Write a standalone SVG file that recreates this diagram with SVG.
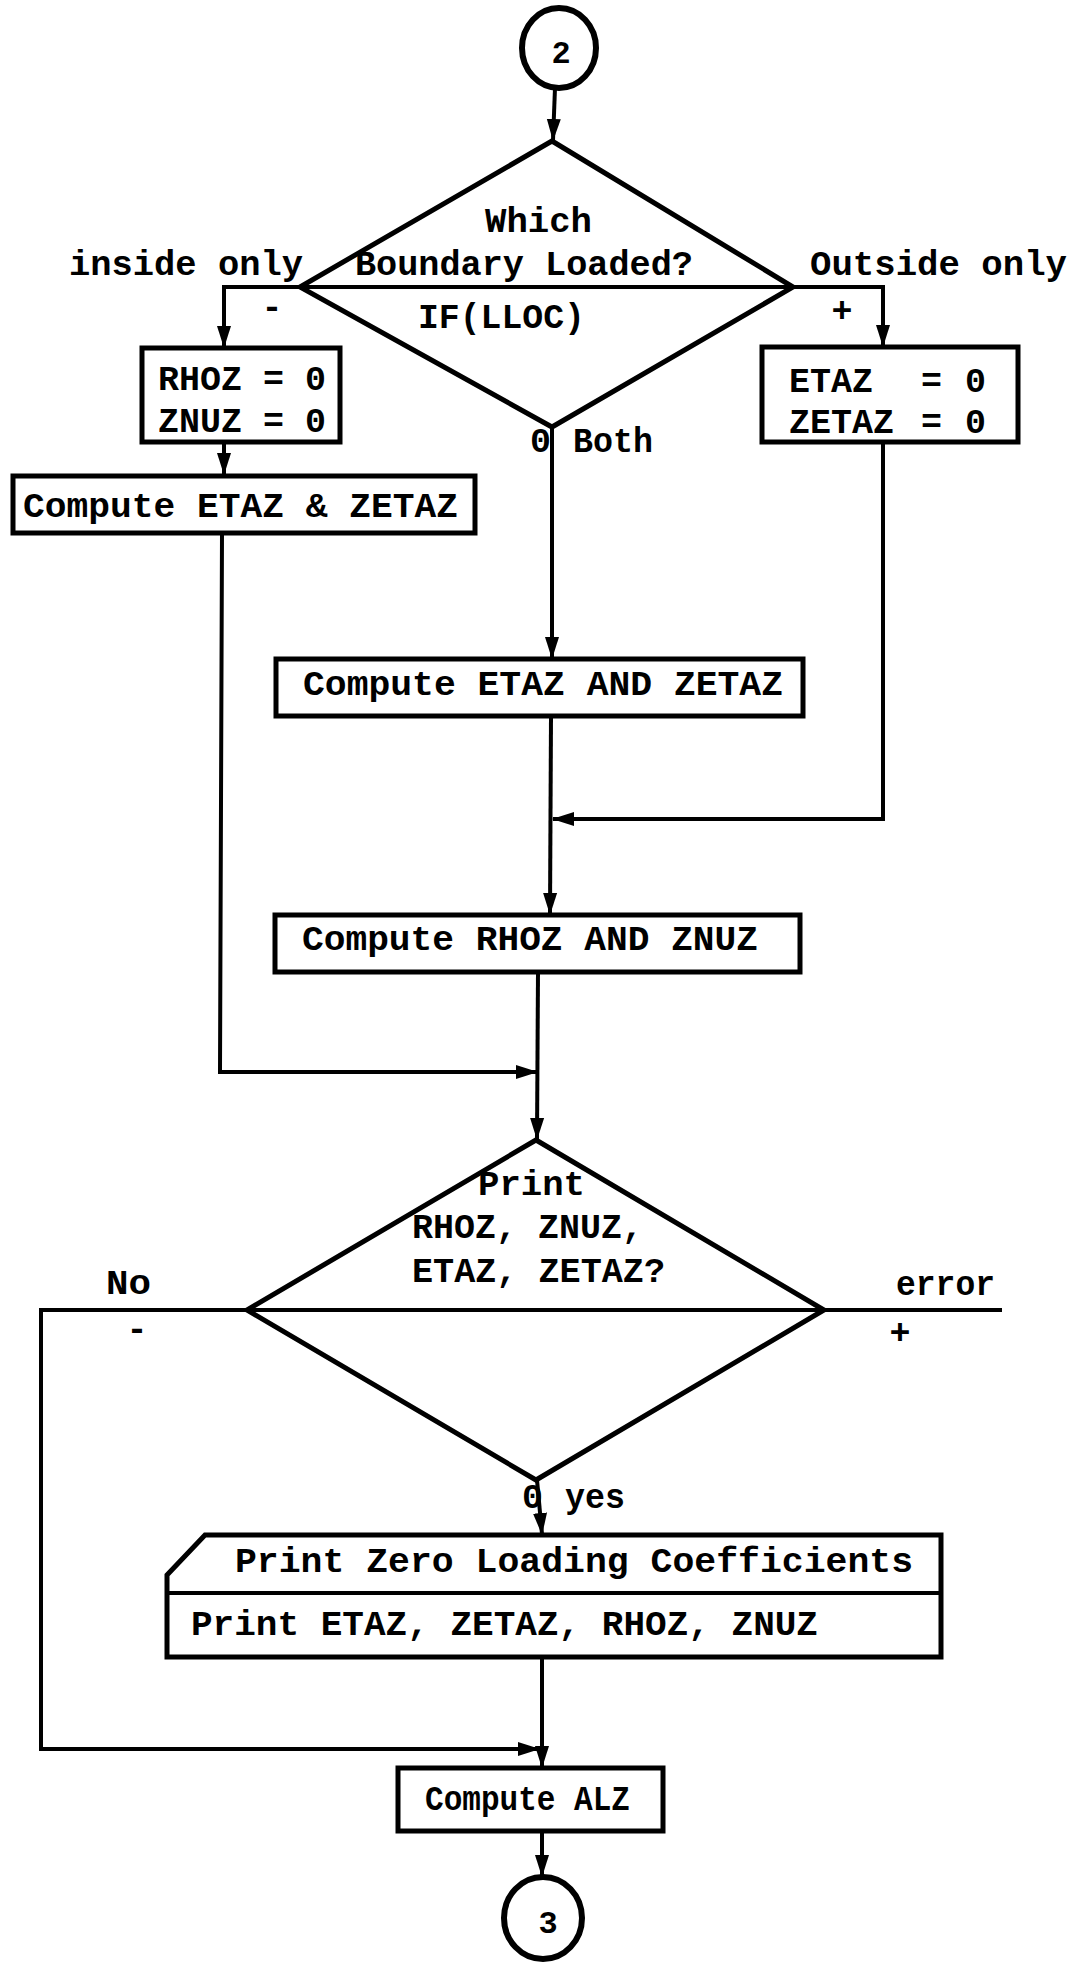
<svg xmlns="http://www.w3.org/2000/svg" width="1076" height="1962" viewBox="0 0 1076 1962">
<style>
  .bg { fill: #ffffff; }
  .shape { fill: #ffffff; stroke: #000; stroke-width: 5; stroke-linejoin: miter; }
  .term { fill: #ffffff; stroke: #000; stroke-width: 6; }
  .mid { stroke: #000; stroke-width: 4; fill: none; }
  .conn { fill: none; stroke: #000; stroke-width: 4; stroke-linejoin: miter; }
  text { font-family: "Liberation Mono", "DejaVu Sans Mono", monospace; font-weight: bold; font-size: 35px; fill: #000; }
  .num { font-size: 32px; text-anchor: middle; }
  .sign { text-anchor: middle; }
</style>
<defs>
  <marker id="arrow" markerUnits="userSpaceOnUse" markerWidth="22" markerHeight="16" refX="21" refY="8" orient="auto">
    <path d="M0,1 L22,8 L0,15 Z" fill="#000"/>
  </marker>
</defs>
<rect class="bg" x="0" y="0" width="1076" height="1962"/>

<g id="connectors">
  <path class="conn" d="M555,88 L553,140" marker-end="url(#arrow)"/>
  <path class="conn" d="M300,287 L224,287 L224,347" marker-end="url(#arrow)"/>
  <path class="conn" d="M793,287 L883,287 L883,346" marker-end="url(#arrow)"/>
  <path class="conn" d="M224,442 L224,474" marker-end="url(#arrow)"/>
  <path class="conn" d="M552,427 L552,658" marker-end="url(#arrow)"/>
  <path class="conn" d="M222,533 L220,1072 L537,1072" marker-end="url(#arrow)"/>
  <path class="conn" d="M883,442 L883,819 L553,819" marker-end="url(#arrow)"/>
  <path class="conn" d="M551,716 L550,914" marker-end="url(#arrow)"/>
  <path class="conn" d="M538,972 L537,1139" marker-end="url(#arrow)"/>
  <path class="conn" d="M247,1310 L41,1310 L41,1749 L539,1749" marker-end="url(#arrow)"/>
  <path class="conn" d="M824,1310 L1002,1310"/>
  <path class="conn" d="M537,1480 L542,1534" marker-end="url(#arrow)"/>
  <path class="conn" d="M542,1657 L542,1767" marker-end="url(#arrow)"/>
  <path class="conn" d="M542,1831 L542,1876" marker-end="url(#arrow)"/>
</g>

<g id="start2">
  <ellipse class="term" cx="559" cy="48" rx="37" ry="40"/>
  <text class="num" x="561" y="63">2</text>
</g>

<g id="decision-boundary">
  <polygon class="shape" points="552,141 793,287 552,427 300,287"/>
  <line class="mid" x1="300" y1="287" x2="793" y2="287"/>
  <text x="485" y="232" textLength="107" lengthAdjust="spacingAndGlyphs">Which</text>
  <text x="355" y="275" textLength="338" lengthAdjust="spacingAndGlyphs">Boundary Loaded?</text>
  <text x="418" y="328" textLength="167" lengthAdjust="spacingAndGlyphs">IF(LLOC)</text>
</g>

<g id="labels-boundary">
  <text x="69" y="275" textLength="234" lengthAdjust="spacingAndGlyphs">inside only</text>
  <text x="810" y="275" textLength="257" lengthAdjust="spacingAndGlyphs">Outside only</text>
  <text class="sign" x="272" y="318">-</text>
  <text class="sign" x="842" y="322">+</text>
  <text x="530" y="452">0</text>
  <text x="573" y="452" textLength="80" lengthAdjust="spacingAndGlyphs">Both</text>
</g>

<g id="box-rhoz-zero">
  <rect class="shape" x="142" y="348" width="198" height="94"/>
  <text y="390"><tspan x="158">RHOZ</tspan><tspan x="263">=</tspan><tspan x="305">0</tspan></text>
  <text y="432"><tspan x="158">ZNUZ</tspan><tspan x="263">=</tspan><tspan x="305">0</tspan></text>
</g>

<g id="box-etaz-zero">
  <rect class="shape" x="762" y="347" width="256" height="95"/>
  <text y="392"><tspan x="789">ETAZ</tspan><tspan x="921">=</tspan><tspan x="965">0</tspan></text>
  <text y="433"><tspan x="789">ZETAZ</tspan><tspan x="921">=</tspan><tspan x="965">0</tspan></text>
</g>

<g id="box-compute-etaz-amp">
  <rect class="shape" x="13" y="476" width="462" height="57"/>
  <text x="23" y="517" textLength="435" lengthAdjust="spacingAndGlyphs">Compute ETAZ &amp; ZETAZ</text>
</g>

<g id="box-compute-etaz-and">
  <rect class="shape" x="276" y="659" width="527" height="57"/>
  <text x="303" y="695" textLength="480" lengthAdjust="spacingAndGlyphs">Compute ETAZ AND ZETAZ</text>
</g>

<g id="box-compute-rhoz">
  <rect class="shape" x="275" y="915" width="525" height="57"/>
  <text x="302" y="950" textLength="456" lengthAdjust="spacingAndGlyphs">Compute RHOZ AND ZNUZ</text>
</g>

<g id="decision-print">
  <polygon class="shape" points="536,1140 824,1310 536,1480 247,1310"/>
  <line class="mid" x1="247" y1="1310" x2="824" y2="1310"/>
  <text x="478" y="1195" textLength="107" lengthAdjust="spacingAndGlyphs">Print</text>
  <text x="412" y="1238" textLength="231" lengthAdjust="spacingAndGlyphs">RHOZ, ZNUZ,</text>
  <text x="412" y="1282" textLength="253" lengthAdjust="spacingAndGlyphs">ETAZ, ZETAZ?</text>
</g>

<g id="labels-print">
  <text x="106" y="1294" textLength="45" lengthAdjust="spacingAndGlyphs">No</text>
  <text x="896" y="1295" textLength="99" lengthAdjust="spacingAndGlyphs">error</text>
  <text class="sign" x="137" y="1340">-</text>
  <text class="sign" x="900" y="1344">+</text>
  <text x="522" y="1508">0</text>
  <text x="565" y="1508" textLength="60" lengthAdjust="spacingAndGlyphs">yes</text>
</g>

<g id="print-output">
  <path class="shape" d="M205,1535 L941,1535 L941,1657 L167,1657 L167,1575 Z"/>
  <line class="mid" x1="167" y1="1593" x2="941" y2="1593"/>
  <text x="235" y="1572" textLength="678" lengthAdjust="spacingAndGlyphs">Print Zero Loading Coefficients</text>
  <text x="191" y="1635" textLength="627" lengthAdjust="spacingAndGlyphs">Print ETAZ, ZETAZ, RHOZ, ZNUZ</text>
</g>

<g id="box-compute-alz">
  <rect class="shape" x="398" y="1768" width="265" height="63"/>
  <text x="425" y="1810" textLength="205" lengthAdjust="spacingAndGlyphs">Compute ALZ</text>
</g>

<g id="end3">
  <ellipse class="term" cx="543" cy="1918" rx="39" ry="41"/>
  <text class="num" x="548" y="1933">3</text>
</g>
</svg>
